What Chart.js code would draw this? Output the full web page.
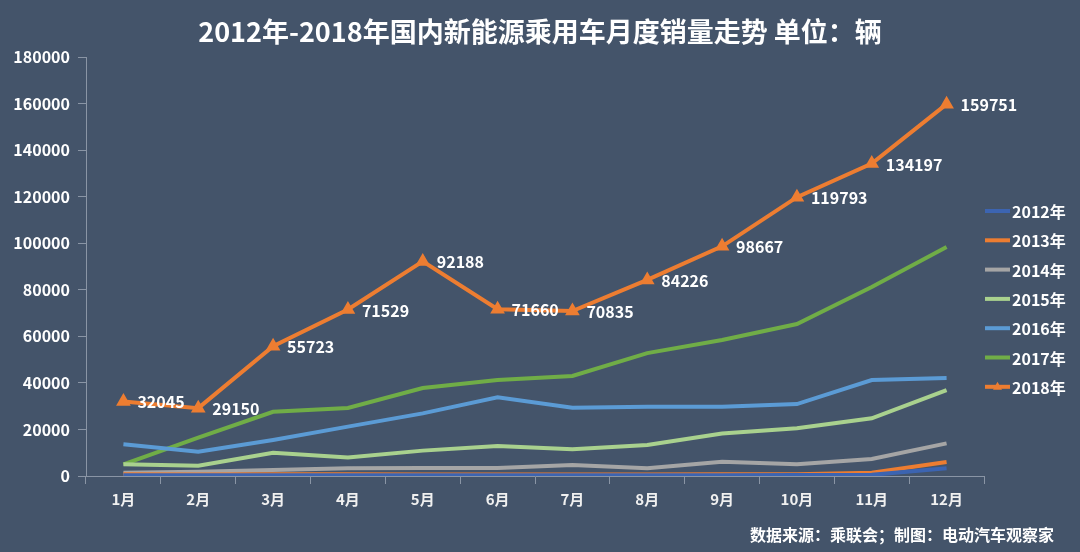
<!DOCTYPE html>
<html>
<head>
<meta charset="utf-8">
<script src="https://cdn.jsdelivr.net/npm/chart.js@4/dist/chart.umd.min.js"></script>
<style>
  html, body { margin: 0; padding: 0; background: #44546a; }
  #wrap { width: 1080px; height: 552px; }
</style>
</head>
<body>
<div id="wrap"><canvas id="chart"></canvas></div>
<script>
// -- data ------------------------------------------------------------------->
const months = ['1月', '2月', '3月', '4月', '5月', '6月', '7月', '8月', '9月', '10月', '11月', '12月']
const years = ['2012年', '2013年', '2014年', '2015年', '2016年', '2017年', '2018年']

const sales2012 = [300, 300, 300, 300, 300, 300, 300, 300, 300, 400, 500, 3300]
const sales2013 = [700, 600, 700, 700, 600, 600, 600, 600, 700, 700, 1400, 6000]
const sales2014 = [1400, 1800, 2600, 3300, 3400, 3400, 4700, 3300, 6100, 5100, 7300, 14000]
const sales2015 = [5100, 4400, 10000, 8000, 10900, 12900, 11500, 13300, 18300, 20500, 24800, 36900]
const sales2016 = [13600, 10400, 15500, 21200, 26900, 33800, 29300, 29800, 29800, 30900, 41200, 42100]
const sales2017 = [5000, 16500, 27600, 29200, 37800, 41200, 43000, 52800, 58400, 65300, 81200, 98400]
const sales2018 = [32045, 29150, 55723, 71529, 92188, 71660, 70835, 84226, 98667, 119793, 134197, 159751]

const colors = ['#3c64b1', '#ed7d31', '#a5a5a5', '#a9d18e', '#5b9bd5', '#70ad47', '#ed7d31']

const titleText = '2012年-2018年国内新能源乘用车月度销量走势 单位：辆'
const sourceText = '数据来源：乘联会；制图：电动汽车观察家'

const FONT = "'Noto Sans CJK SC', 'Noto Sans', sans-serif"

// -- plugins ---------------------------------------------------------------->
// title, footer, custom legend and the value labels on the 2018 line
const decorations = {
    id: 'decorations',
    afterDatasetsDraw(chart) {
        const ctx = chart.ctx
        ctx.save()
        ctx.fillStyle = '#ffffff'

        // title
        ctx.font = 'bold 27px ' + FONT
        ctx.textAlign = 'center'
        ctx.textBaseline = 'middle'
        ctx.fillText(titleText, 540, 32)

        // footer
        ctx.font = 'bold 16px ' + FONT
        ctx.textAlign = 'right'
        ctx.fillText(sourceText, 1054, 535)

        // value labels for 2018
        const meta = chart.getDatasetMeta(6)
        ctx.font = 'bold 16px ' + FONT
        ctx.textAlign = 'left'
        meta.data.forEach((pt, i) => {
            ctx.fillText(String(sales2018[i]), pt.x + 14, pt.y + 1)
        })

        // legend
        ctx.font = 'bold 16px ' + FONT
        ctx.textAlign = 'left'
        chart.data.datasets.forEach((ds, i) => {
            const y = 211 + i * 29.3
            ctx.strokeStyle = ds.borderColor
            ctx.lineWidth = 4
            ctx.beginPath()
            ctx.moveTo(985, y)
            ctx.lineTo(1010, y)
            ctx.stroke()
            if (ds.pointStyle === 'triangle') {
                ctx.fillStyle = ds.borderColor
                ctx.beginPath()
                ctx.moveTo(997.5, y - 5)
                ctx.lineTo(1002, y + 3)
                ctx.lineTo(993, y + 3)
                ctx.closePath()
                ctx.fill()
            }
            ctx.fillStyle = '#ffffff'
            ctx.fillText(ds.label, 1012, y + 1)
        })
        ctx.restore()
    }
}

// -- chart ------------------------------------------------------------------>
const seriesList = [sales2012, sales2013, sales2014, sales2015, sales2016, sales2017, sales2018]

const datasets = seriesList.map((values, i) => ({
    label: years[i],
    data: values,
    borderColor: colors[i],
    backgroundColor: colors[i],
    borderWidth: 4,
    pointRadius: 0,
    tension: 0
}))
datasets[6].pointStyle = 'triangle'
datasets[6].pointRadius = 4.5

new Chart(document.getElementById('chart'), {
    type: 'line',
    data: { labels: months, datasets },
    options: {
        responsive: true,
        maintainAspectRatio: false,
        animation: false,
        layout: { padding: { top: 57, right: 96, left: 0, bottom: 0 } },
        plugins: {
            legend: { display: false },
            title: { display: false },
            tooltip: { enabled: false }
        },
        scales: {
            x: {
                offset: true,
                grid: { offset: true, drawOnChartArea: false, color: '#8a95a5', tickLength: 8 },
                border: { color: '#8a95a5' },
                ticks: { color: '#f0f0f0', font: { family: FONT, size: 15, weight: 'bold' }, padding: 6 },
                afterFit(scale) { scale.height = 76 }
            },
            y: {
                min: 0,
                max: 180000,
                ticks: {
                    stepSize: 20000,
                    color: '#ffffff',
                    font: { family: FONT, size: 16, weight: 'bold' },
                    padding: 8,
                    callback: (v) => String(v)
                },
                grid: { drawOnChartArea: false, color: '#8a95a5', tickLength: 8 },
                border: { color: '#8a95a5' },
                afterFit(scale) { scale.width = 86 }
            }
        }
    },
    plugins: [decorations]
})
</script>
</body>
</html>
